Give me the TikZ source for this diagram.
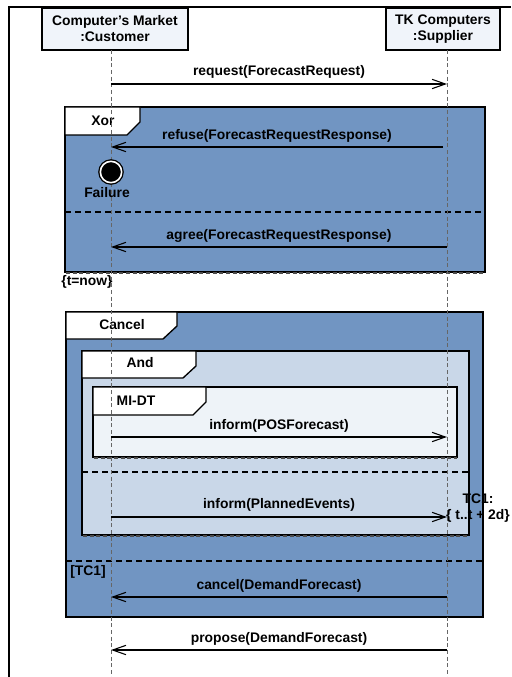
\documentclass[tikz,border=0pt]{standalone}
\usepackage{fontspec}
\setmainfont{Liberation Sans}
\usetikzlibrary{arrows.meta}

\definecolor{fragblue}{RGB}{113,149,194}
\definecolor{andblue}{RGB}{201,215,232}
\definecolor{midtblue}{RGB}{238,243,248}
\definecolor{headfill}{RGB}{240,244,250}

\tikzset{
  txt/.style={font=\fontsize{10.4}{12}\selectfont\bfseries, inner sep=0pt},
  head/.style={draw, thick, fill=headfill, align=center, txt,
    minimum height=31.5pt},
  lifeline/.style={gray!80!black, dash pattern=on 3pt off 2pt, line width=0.6pt},
  msg/.style={line width=0.8pt, -{Straight Barb[length=10pt,width=7pt,line width=0.8pt]}},
  frame/.style={draw, line width=1pt},
  tab/.style={draw, line width=1pt, fill=white},
  sep/.style={line width=0.8pt, dash pattern=on 4.5pt off 3pt},
  shade/.style={gray!60!black, line width=0.8pt, dash pattern=on 3pt off 2pt}
}

\begin{document}
\begin{tikzpicture}[x=0.75pt, y=-0.75pt]
\useasboundingbox (0,0) rectangle (511,677);

% diagram frame
\draw[line width=1.5pt] (9,677) -- (9,7) -- (511,7);

% participants
\node[head, minimum width=109.5pt] (cust) at (115,29) {Computer’s Market\\:Customer};
\node[head, minimum width=85.5pt] (supp) at (443,29) {TK Computers\\:Supplier};
\coordinate (cu) at (111,50);
\coordinate (su) at (447,50);
\coordinate (cuend) at (111,677);
\coordinate (suend) at (447,677);

% Xor fragment
\draw[frame, fill=fragblue] (65,107) rectangle (485,272);
\draw[shade] (66,273) -- (485,273);
\draw[tab] (65,107) -- (140,107) -- (140,122) -- (127,135) -- (65,135) -- cycle;
\node[txt] (xor) at (103,121) {Xor};
\draw[sep] (65,212) -- (485,212);
\node[txt] (now) at (87,282) {\{t=now\}};

% Cancel fragment
\draw[frame, fill=fragblue] (66,312) rectangle (483,617);
\draw[tab] (66,312) -- (177,312) -- (177,326) -- (163,339) -- (66,339) -- cycle;
\node[txt] (cancel) at (122,325) {Cancel};
\draw[sep] (66,561) -- (483,561);
\node[txt] (tc) at (88,572) {[TC1]};

% And fragment
\draw[frame, fill=andblue] (82,351) rectangle (469,535);
\draw[shade] (83,536) -- (469,536);
\draw[tab] (82,351) -- (196,351) -- (196,366) -- (183,378) -- (82,378) -- cycle;
\node[txt] (and) at (140,363) {And};
\draw[sep] (82,472) -- (469,472);

% MI-DT fragment
\draw[frame, fill=midtblue] (93,387) rectangle (457,457);
\draw[shade] (94,458) -- (457,458);
\draw[tab] (93,387) -- (206,387) -- (206,402) -- (193,415) -- (93,415) -- cycle;
\node[txt] (midt) at (136,401) {MI-DT};

% lifelines
\draw[lifeline] (cu) -- (cuend);
\draw[lifeline] (su) -- (suend);

% failure state
\node[circle, draw, line width=1pt, fill=black, inner sep=0pt, minimum size=16pt,
  double=white, double distance=1.2pt] (fail) at (111,172) {};
\node[txt] (faillbl) at (107,193) {Failure};

% messages
\draw[msg] (cu |- 0,84) -- node[txt, above=4pt] {request(ForecastRequest)} (su |- 0,84);
\draw[msg] (443,147) -- node[txt, above=3pt] {refuse(ForecastRequestResponse)} (cu |- 0,147);
\draw[msg] (su |- 0,247) -- node[txt, above=3pt] {agree(ForecastRequestResponse)} (cu |- 0,247);
\draw[msg] (cu |- 0,437) -- node[txt, above=3pt] {inform(POSForecast)} (su |- 0,437);
\draw[msg] (cu |- 0,517) -- node[txt, above=4pt] {inform(PlannedEvents)} (su |- 0,517);
\draw[msg] (su |- 0,597) -- node[txt, above=3pt] {cancel(DemandForecast)} (cu |- 0,597);
\draw[msg] (su |- 0,650) -- node[txt, above=3pt] {propose(DemandForecast)} (cu |- 0,650);

% time constraint
\node[txt, align=center] (tc1) at (478,508) {TC1:\\\{ t..t + 2d\}};
\end{tikzpicture}
\end{document}
